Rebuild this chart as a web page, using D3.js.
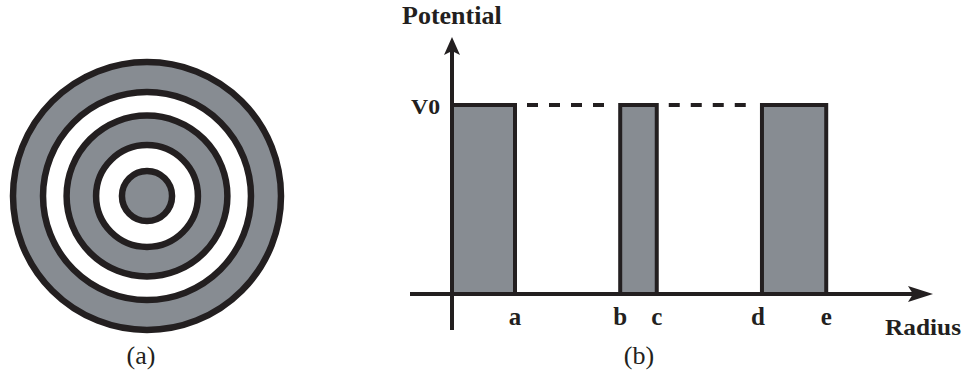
<!DOCTYPE html>
<html>
<head>
<meta charset="utf-8">
<script src="https://cdn.jsdelivr.net/npm/d3@7/dist/d3.min.js"></script>
<style>
  html, body { margin: 0; padding: 0; background: #fff; }
  svg { display: block; }
  text { font-family: "Liberation Serif", "Times New Roman", serif; fill: #231f20; }
</style>
</head>
<body>
<script>
// Radial positions of the barrier edges (arbitrary length units)
const radiusLabels = ["a", "b", "c", "d", "e"];
const radiusValues = [1.0, 2.67, 3.25, 4.92, 5.94];
// Potential barriers: [start, end] pairs in radius units, all at height V0
const barrierStarts = [0, 2.67, 4.92];
const barrierEnds = [1.0, 3.25, 5.94];
const V0 = 1;
const potentialLabel = "V0";
// Ring boundaries of the cross-section, as a fraction of the outer radius
const ringEdges = [0.187, 0.38, 0.60, 0.776, 1.0];
const ringFilled = [true, false, true, false, true];
const panelLabels = ["(a)", "(b)"];

const W = 964, H = 377;
const ink = "#231f20", grey = "#878c92";

const svg = d3.select("body").append("svg").attr("width", W).attr("height", H);

// ---------- (a) concentric rings ----------
const ringScale = d3.scaleLinear().domain([0, 1]).range([0, 134]);
const rings = svg.append("g").attr("transform", "translate(147,196)");
const ringData = ringEdges.map((r, i) => ({ r, filled: ringFilled[i] }))
  .sort((p, q) => q.r - p.r);
rings.selectAll("circle").data(ringData).join("circle")
  .attr("r", d => ringScale(d.r))
  .attr("fill", d => d.filled ? grey : "#fff")
  .attr("stroke", ink)
  .attr("stroke-width", 6.5);

svg.append("text").attr("x", 141).attr("y", 364)
  .attr("text-anchor", "middle").attr("font-size", 26)
  .text(panelLabels[0]);

// ---------- (b) potential profile ----------
const x = d3.scaleLinear().domain([0, 1]).range([452, 515]);
const y = d3.scaleLinear().domain([0, V0]).range([294, 105]);

const barriers = barrierStarts.map((s, i) => ({ s, e: barrierEnds[i] }));

svg.append("g").selectAll("rect").data(barriers).join("rect")
  .attr("x", d => x(d.s))
  .attr("y", y(V0))
  .attr("width", d => x(d.e) - x(d.s))
  .attr("height", y(0) - y(V0))
  .attr("fill", grey)
  .attr("stroke", ink)
  .attr("stroke-width", 4);

// dashed V0 level across the wells between barriers
const gaps = barriers.slice(1).map((b, i) => ({ s: barriers[i].e, e: b.s }));
svg.append("g").selectAll("line").data(gaps).join("line")
  .attr("x1", d => x(d.s) + 12)
  .attr("x2", d => x(d.e) - 10)
  .attr("y1", y(V0)).attr("y2", y(V0))
  .attr("stroke", ink)
  .attr("stroke-width", 4)
  .attr("stroke-dasharray", "11,11");

// axes
svg.append("line").attr("x1", 410).attr("x2", 915)
  .attr("y1", y(0)).attr("y2", y(0))
  .attr("stroke", ink).attr("stroke-width", 4);
svg.append("line").attr("x1", x(0)).attr("x2", x(0))
  .attr("y1", 330).attr("y2", 50)
  .attr("stroke", ink).attr("stroke-width", 4);

// arrowheads
svg.append("path")
  .attr("d", `M${x(0)},37 L${x(0) + 8},55 L${x(0)},51 L${x(0) - 8},55 Z`)
  .attr("fill", ink);
svg.append("path")
  .attr("d", `M933,${y(0)} L908,${y(0) - 8} L913,${y(0)} L908,${y(0) + 8} Z`)
  .attr("fill", ink);

// tick labels under the radius axis
svg.append("g").selectAll("text").data(radiusLabels).join("text")
  .attr("x", (d, i) => x(radiusValues[i]) + (d === "d" ? -4 : 0))
  .attr("y", 325)
  .attr("text-anchor", "middle")
  .attr("font-size", 25)
  .attr("font-weight", "bold")
  .text(d => d);

svg.append("text").attr("x", 440).attr("y", 114)
  .attr("text-anchor", "end").attr("font-size", 21).attr("font-weight", "bold")
  .attr("textLength", 29).attr("lengthAdjust", "spacingAndGlyphs")
  .text(potentialLabel);

svg.append("text").attr("x", 402).attr("y", 24)
  .attr("font-size", 26).attr("font-weight", "bold")
  .text("Potential");

svg.append("text").attr("x", 885).attr("y", 335)
  .attr("font-size", 23).attr("font-weight", "bold")
  .attr("textLength", 76).attr("lengthAdjust", "spacingAndGlyphs")
  .text("Radius");

svg.append("text").attr("x", 639).attr("y", 364)
  .attr("text-anchor", "middle").attr("font-size", 26)
  .text(panelLabels[1]);
</script>
</body>
</html>
